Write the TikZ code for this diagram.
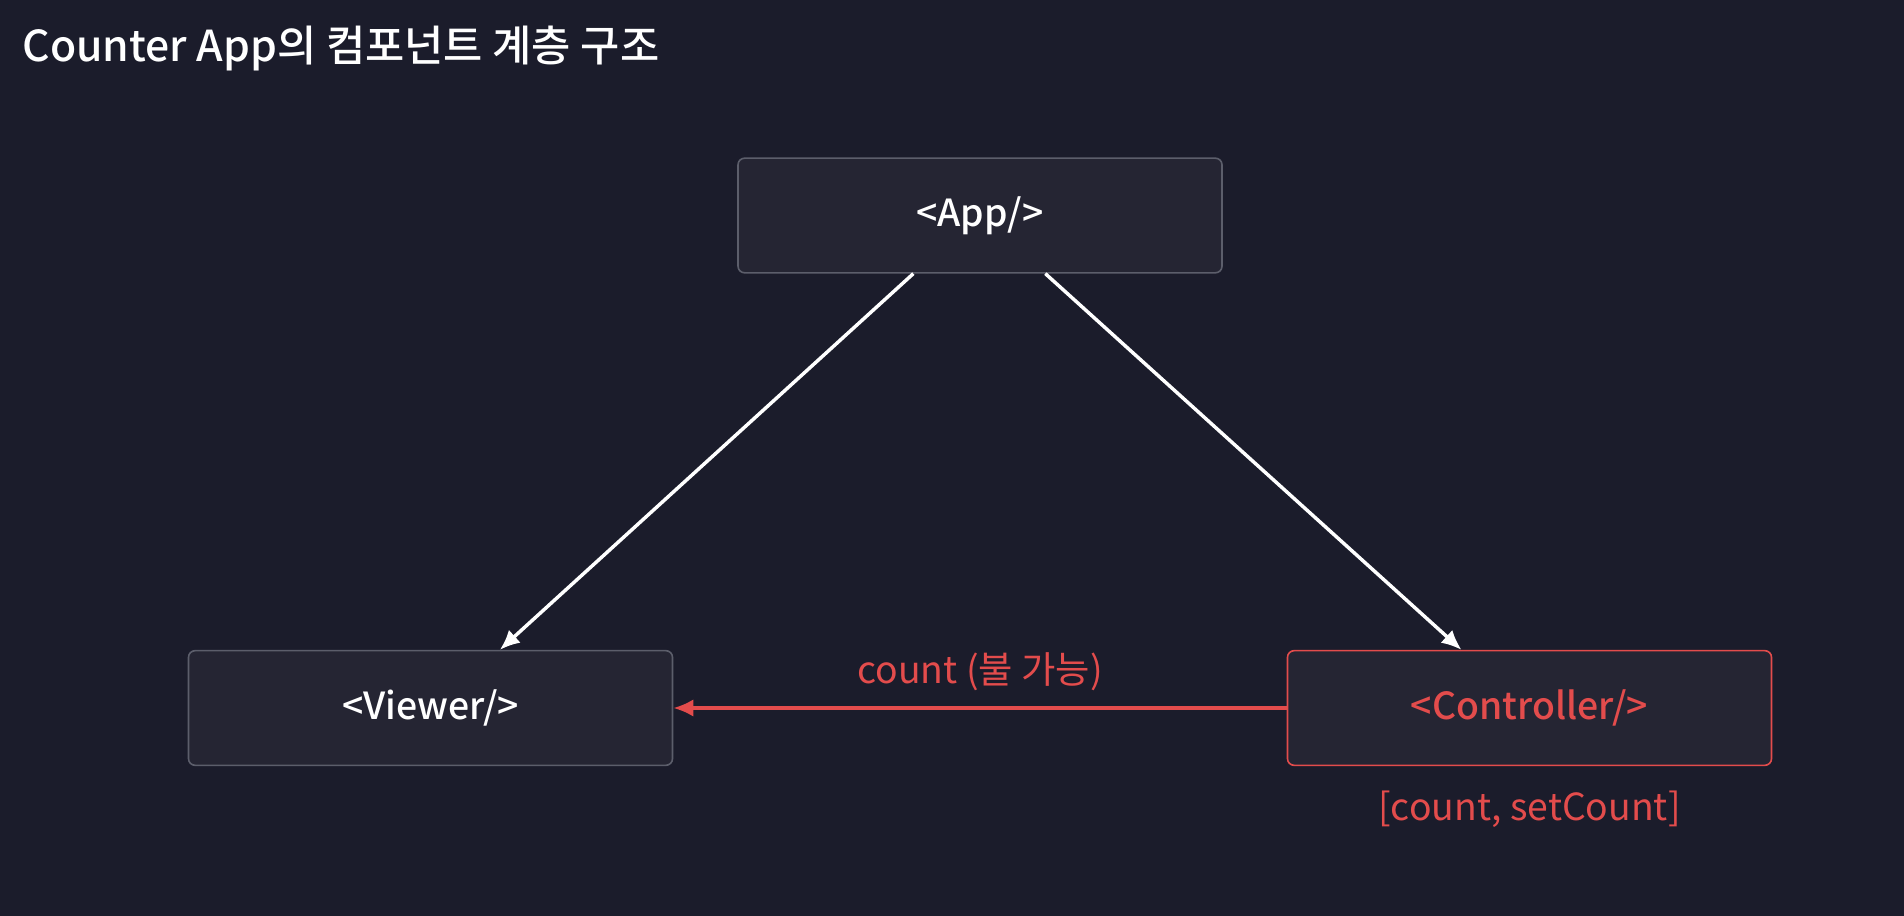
\documentclass[tikz,border=0pt]{standalone}
\usepackage{fontspec}
\setmainfont{Noto Sans CJK KR}[BoldFont={Noto Sans CJK KR Medium}]
\usepackage{tikz}
\usetikzlibrary{arrows.meta,positioning}
\definecolor{nightbg}{rgb}{0.106, 0.110, 0.169}
\definecolor{boxfill}{rgb}{0.145, 0.145, 0.200}
\definecolor{boxline}{rgb}{0.36, 0.37, 0.42}
\definecolor{alertred}{rgb}{0.89, 0.30, 0.30}
\tikzset{
  comp/.style={
    rounded corners=5pt,
    draw=boxline,
    line width=1.2pt,
    fill=boxfill,
    align=center,
    minimum width=363pt,
    minimum height=86pt,
    text=white,
    font=\fontsize{28}{32}\selectfont\bfseries
  },
  comprojo/.style={
    comp,
    draw=alertred,
    text=alertred
  },
  arrow/.style={
    -{Latex[length=15pt,width=13pt]},
    line width=2.6pt,
    white
  },
  arrowrojo/.style={
    arrow,
    line width=2.4pt,
    alertred
  }
}
\begin{document}
\begin{tikzpicture}[x=0.75pt,y=-0.75pt]
\useasboundingbox[fill=nightbg] (0,0) rectangle (1904,916);
\node[anchor=base west, text=white, font=\fontsize{32}{38}\selectfont\bfseries] (title) at (18,62) {Counter App의 컴포넌트 계층 구조};
\node[comp] (app) at (980,215.5) {<App/>};
\node[comp] (viewer) at (430.5,708) {<Viewer/>};
\node[comprojo] (ctrl) at (1529.5,708) {<Controller/>};
\node[below=15pt of ctrl, text=alertred, font=\fontsize{28}{32}\selectfont] (state) {[count, setCount]};
\draw[arrow] ([xshift=-50pt]app.south) -- ([xshift=52pt]viewer.north);
\draw[arrow] ([xshift=49pt]app.south) -- ([xshift=-51pt]ctrl.north);
\draw[arrowrojo] (ctrl.west) -- node[above=8pt, text=alertred, font=\fontsize{28}{32}\selectfont] (lbl) {count (불 가능)} (viewer.east);
\end{tikzpicture}
\end{document}
